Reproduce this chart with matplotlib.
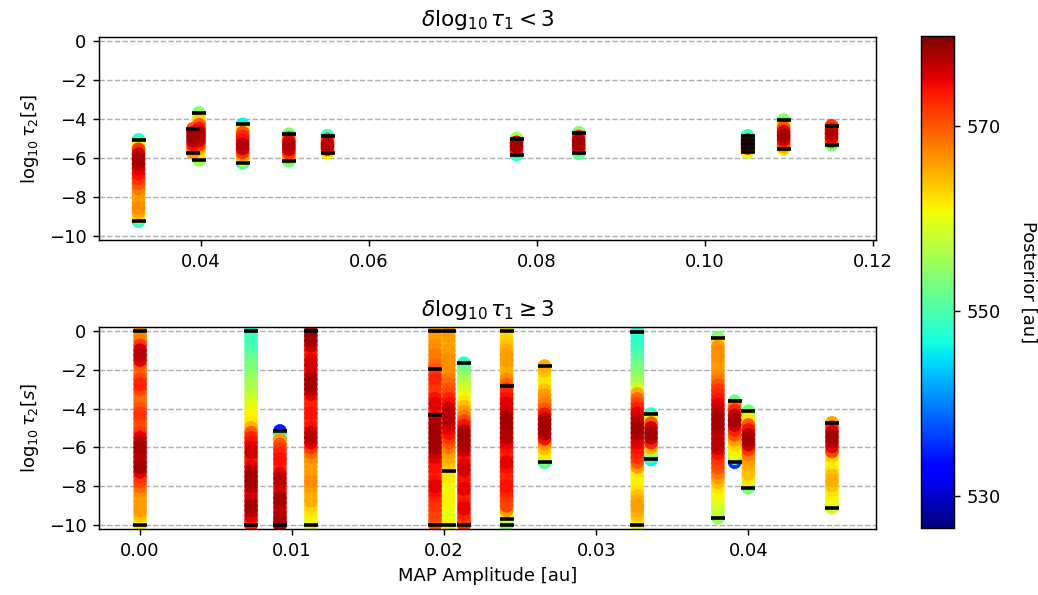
import numpy as np
import matplotlib
matplotlib.use('Agg')
import matplotlib.pyplot as plt
import matplotlib.colors as mcolors

# top panel: delta log10 tau1 < 3
top_x = [0.0326, 0.0391, 0.0398, 0.0450, 0.0505, 0.0551, 0.0776, 0.0850, 0.1051, 0.1094, 0.1151]
top_y = [
    [-5.07, -5.3, -5.55, -5.8, -6.05, -6.3, -6.55, -6.8, -7.05, -7.3, -7.55, -7.8, -8.05, -8.3, -8.55, -8.8, -9.05, -9.23],
    [-4.5, -4.7, -4.9, -5.1, -5.3, -5.5, -5.73],
    [-3.69, -3.9, -4.1, -4.3, -4.5, -4.7, -4.9, -5.1, -5.3, -5.5, -5.7, -5.9, -6.09],
    [-4.28, -4.5, -4.7, -4.9, -5.1, -5.3, -5.5, -5.7, -5.9, -6.1, -6.25],
    [-4.78, -4.95, -5.15, -5.35, -5.55, -5.75, -5.95, -6.14],
    [-4.86, -5.05, -5.25, -5.4, -5.55, -5.73],
    [-5.0, -5.2, -5.4, -5.6, -5.82],
    [-4.71, -4.9, -5.1, -5.3, -5.5, -5.75],
    [-4.86, -5.08, -5.29, -5.49, -5.68],
    [-4.06, -4.25, -4.45, -4.65, -4.85, -5.05, -5.25, -5.4, -5.53],
    [-4.35, -4.55, -4.75, -4.95, -5.15, -5.31],
]
top_post = [
    [548, 560, 572, 576, 578, 577, 575, 574, 572, 570, 568, 566, 565, 566, 567, 565, 562, 548],
    [570, 576, 578, 577, 574, 570, 566],
    [553, 558, 563, 570, 574, 577, 577, 575, 571, 566, 562, 559, 554],
    [546, 562, 570, 573, 574, 577, 576, 572, 566, 558, 550],
    [553, 568, 575, 577, 576, 572, 565, 553],
    [549, 570, 576, 577, 573, 562],
    [556, 576, 578, 574, 548],
    [553, 572, 577, 578, 575, 551],
    [549, 573, 577, 571, 560],
    [553, 563, 570, 575, 578, 576, 572, 566, 562],
    [572, 575, 577, 575, 570, 553],
]
top_bars = [
    [-5.07, -9.23], [-4.5, -5.73], [-3.69, -6.09], [-4.28, -6.25], [-4.78, -6.14],
    [-4.86, -5.73], [-5.0, -5.82], [-4.71, -5.75],
    [-4.86, -5.08, -5.29, -5.49, -5.68], [-4.06, -5.53], [-4.35, -5.31],
]

# bottom panel: delta log10 tau1 >= 3
full = [0, -0.25, -0.5, -0.75, -1, -1.25, -1.5, -1.75, -2, -2.25, -2.5, -2.75, -3, -3.25,
        -3.5, -3.75, -4, -4.25, -4.5, -4.75, -5, -5.25, -5.5, -5.75, -6, -6.25, -6.5, -6.75,
        -7, -7.25, -7.5, -7.75, -8, -8.25, -8.5, -8.75, -9, -9.25, -9.5, -9.75, -10]
bot_x = [0.0, 0.0073, 0.0092, 0.01123, 0.0194, 0.0203, 0.0213, 0.0241, 0.0266,
         0.0327, 0.0336, 0.0380, 0.0391, 0.0400, 0.0455]
bot_y = [
    full,
    full,
    [-5.15, -5.4, -5.6, -5.85, -6.1, -6.35, -6.6, -6.85, -7.1, -7.35, -7.6, -7.85, -8.1,
     -8.35, -8.6, -8.85, -9.1, -9.35, -9.6, -9.8, -10],
    full,
    full,
    full,
    [-1.66, -1.9, -2.15, -2.4, -2.65, -2.9, -3.15, -3.4, -3.65, -3.9, -4.15, -4.4, -4.65,
     -4.9, -5.15, -5.4, -5.65, -5.9, -6.15, -6.4, -6.65, -6.9, -7.15, -7.4, -7.65, -7.9,
     -8.15, -8.4, -8.65, -8.9, -9.15, -9.4, -9.65, -9.85, -10],
    full,
    [-1.81, -2.05, -2.3, -2.55, -2.8, -3.05, -3.3, -3.55, -3.8, -4.05, -4.3, -4.55, -4.8,
     -5.05, -5.3, -5.55, -5.8, -6.05, -6.3, -6.55, -6.77],
    [-0.05] + full[1:],
    [-4.28, -4.5, -4.75, -5.0, -5.25, -5.5, -5.75, -6.0, -6.25, -6.45, -6.62],
    [-0.34, -0.55, -0.8, -1.05, -1.3, -1.55, -1.8, -2.05, -2.3, -2.55, -2.8, -3.05, -3.3,
     -3.55, -3.8, -4.05, -4.3, -4.55, -4.8, -5.05, -5.3, -5.55, -5.8, -6.05, -6.3, -6.55,
     -6.8, -7.05, -7.3, -7.55, -7.8, -8.05, -8.3, -8.55, -8.8, -9.05, -9.3, -9.62],
    [-3.62, -3.85, -4.1, -4.35, -4.6, -4.85, -5.1, -5.35, -5.6, -5.85, -6.1, -6.35, -6.55, -6.76],
    [-4.13, -4.35, -4.6, -4.85, -5.1, -5.35, -5.6, -5.85, -6.1, -6.35, -6.6, -6.85, -7.1,
     -7.35, -7.6, -7.85, -8.07],
    [-4.73, -4.95, -5.2, -5.45, -5.7, -5.95, -6.2, -6.45, -6.7, -6.95, -7.2, -7.45, -7.7,
     -7.95, -8.2, -8.45, -8.7, -8.9, -9.1],
]
bot_post = [
    [566, 567, 568, 572, 576, 577, 575, 570, 568, 569, 571, 573, 571, 569, 568, 569, 570, 572,
     571, 569, 570, 572, 575, 577, 578, 577, 576, 577, 578, 575, 572, 571, 569, 567, 566, 566,
     565, 566, 564, 562, 561],
    [548, 548, 549, 549, 550, 551, 552, 553, 553, 554, 555, 556, 556, 557, 558, 559, 560, 561,
     561, 562, 565, 570, 573, 574, 575, 576, 574, 573, 575, 577, 578, 578, 577, 575, 574, 576,
     578, 577, 575, 574, 573],
    [535, 548, 566, 570, 572, 573, 574, 573, 572, 575, 577, 576, 574, 575, 578, 577, 575, 576,
     577, 578, 578],
    [577, 578, 578, 576, 574, 573, 575, 576, 574, 576, 578, 578, 577, 575, 573, 572, 573, 574,
     573, 572, 574, 576, 577, 575, 572, 569, 567, 566, 566, 565, 566, 567, 566, 565, 564, 565,
     563, 562, 561, 560, 560],
    [565, 566, 566, 567, 567, 568, 568, 569, 570, 572, 573, 572, 571, 572, 574, 575, 574, 573,
     575, 577, 578, 578, 577, 578, 578, 576, 575, 574, 574, 573, 572, 574, 575, 574, 573, 572,
     572, 571, 571, 570, 570],
    [566, 566, 565, 565, 566, 566, 567, 567, 566, 567, 568, 569, 570, 571, 573, 574, 576, 577,
     577, 576, 575, 574, 572, 570, 568, 566, 565, 564, 563, 562, 562, 561, 560, 560, 561, 561,
     560, 560, 559, 560, 561],
    [548, 551, 553, 555, 556, 558, 559, 560, 562, 564, 566, 568, 571, 574, 577, 578, 578, 577,
     576, 574, 573, 575, 576, 574, 573, 574, 575, 573, 572, 574, 575, 573, 572, 572, 572],
    [562, 562, 563, 564, 565, 566, 566, 565, 564, 565, 567, 569, 572, 573, 574, 575, 575, 576,
     578, 578, 576, 577, 577, 575, 574, 572, 573, 575, 574, 573, 572, 573, 574, 573, 572, 571,
     571, 566, 560, 557, 554],
    [565, 564, 562, 561, 562, 564, 566, 567, 568, 570, 574, 577, 578, 578, 577, 574, 567, 564,
     562, 558, 550],
    [548, 547, 547, 548, 549, 550, 551, 552, 553, 554, 555, 556, 559, 565, 569, 571, 573, 575,
     576, 577, 578, 577, 576, 575, 574, 573, 572, 570, 566, 562, 561, 560, 561, 562, 564, 565,
     566, 565, 564, 562, 560],
    [548, 560, 570, 576, 578, 577, 573, 565, 556, 550, 546],
    [553, 562, 566, 567, 567, 566, 565, 566, 567, 568, 570, 572, 573, 574, 575, 576, 577, 578,
     578, 577, 576, 575, 577, 576, 574, 572, 571, 570, 568, 566, 564, 562, 561, 560, 559, 558,
     557, 555],
    [552, 568, 573, 576, 578, 576, 573, 570, 566, 563, 561, 560, 552, 536],
    [552, 556, 562, 570, 574, 577, 578, 576, 572, 568, 566, 565, 564, 564, 562, 558, 553],
    [565, 572, 576, 578, 577, 575, 571, 563, 561, 560, 562, 564, 565, 564, 562, 561, 560, 559, 558],
]
bot_bars = [
    [0, -10], [0, -10], [-5.15, -10], [0, -10], [0, -1.95, -4.35, -10], [0, -7.2, -10],
    [-1.66, -10], [0, -2.83, -9.7, -10], [-1.81, -6.77], [-0.05, -10], [-4.28, -6.62],
    [-0.34, -9.62], [-3.62, -6.76], [-4.13, -8.07], [-4.73, -9.1],
]

vmin, vmax = 526.5, 579.7
norm = mcolors.Normalize(vmin=vmin, vmax=vmax)
cmap = plt.get_cmap('jet')

fig = plt.figure(figsize=(1038 / 130, 595 / 130), dpi=130)
ax1 = fig.add_axes([0.0954, 0.5966, 0.7486, 0.3412])
ax2 = fig.add_axes([0.0954, 0.1109, 0.7486, 0.3395])
cax = fig.add_axes([0.8873, 0.1126, 0.0318, 0.8269])


def draw_panel(ax, xs, ys, posts, bars):
    px, py, pc = [], [], []
    for x, yy, cc in zip(xs, ys, posts):
        px += [x] * len(yy)
        py += list(yy)
        pc += list(cc)
    px, py, pc = np.array(px), np.array(py), np.array(pc)
    order = np.argsort(pc)
    sc = ax.scatter(px[order], py[order], c=pc[order], cmap=cmap, norm=norm,
                    s=58, edgecolors='none')
    for x, bb in zip(xs, bars):
        ax.plot([x] * len(bb), bb, '_', color='k', markersize=8, mew=2)
    ax.set_ylim(-10.2, 0.2)
    ax.set_yticks([0, -2, -4, -6, -8, -10])
    ax.yaxis.grid(True, linestyle='--', color='#b0b0b0')
    ax.set_axisbelow(True)
    ax.set_ylabel(r'$\log_{10}\tau_2 [s]$')
    return sc


sc = draw_panel(ax1, top_x, top_y, top_post, top_bars)
ax1.set_xlim(0.0279, 0.1204)
ax1.set_title(r'$\delta\log_{10}\tau_1 < 3$')

draw_panel(ax2, bot_x, bot_y, bot_post, bot_bars)
ax2.set_xlim(-0.0027, 0.0484)
ax2.set_xticks([0.0, 0.01, 0.02, 0.03, 0.04])
ax2.set_title(r'$\delta\log_{10}\tau_1 \geq 3$')
ax2.set_xlabel('MAP Amplitude [au]')

cb = fig.colorbar(sc, cax=cax)
cb.set_ticks([530, 550, 570])
cb.set_label('Posterior [au]', rotation=270, labelpad=20)

fig.savefig('out.png', dpi=130)
